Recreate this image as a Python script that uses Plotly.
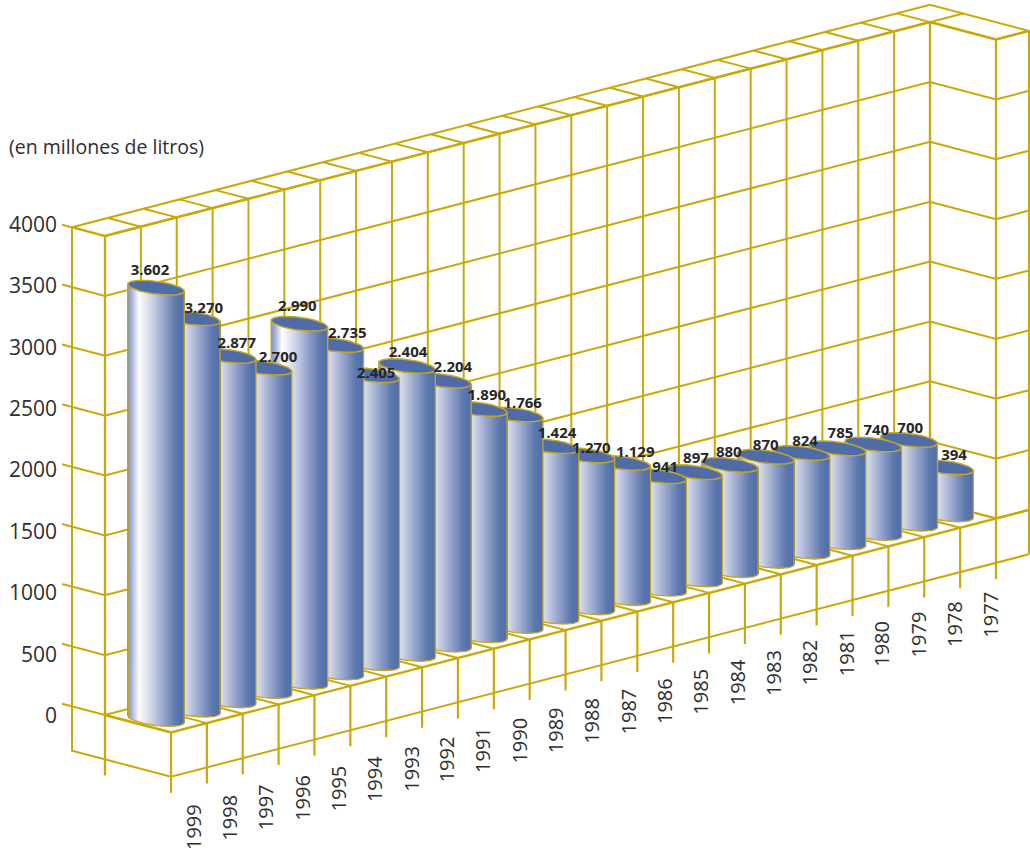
import numpy as np
import plotly.graph_objects as go

# Annual volume, in millions of litres, newest year first
years = list(range(1999, 1976, -1))
volumes = [3602, 3270, 2877, 2700, 2990, 2735, 2405, 2404, 2204, 1890, 1766, 1424,
           1270, 1129, 941, 897, 880, 870, 824, 785, 740, 700, 394]
value_ticks = [0, 500, 1000, 1500, 2000, 2500, 3000, 3500, 4000]
unit_title = "(en millones de litros)"

# Small offsets that keep each value label readable next to its cap
label_dx = [-6, 12, 9, 14.5, -2, 12, 5, 1, 10, 8, 8, 6.5, 5, 13, 7, 2, -1, 0, 3.5, 3, 3, 1, 9]
label_dy = [-16, -9, -12, -10, -17, -11, -1, -13, -12, -13, -10.5, -12, -6, -10, -8, -13,
            -12, -11, -11, -14, -13, -11, -11]

W, H = 1030, 851
GOLD = "#c9a90a"
EDGE = "#c4a820"
CAP = "#4f6ca8"
TEXT = "#2e2e2e"
FONT = "Open Sans"

ORIGIN = (105.0, 715.0)      # back wall meets floor at the first category
STEP = (35.87, -9.3)         # one category along the floor
DEPTH = (33.0, 8.7)          # one unit towards the viewer
PX_PER_UNIT = 0.11975        # vertical scale of the value axis
END = 23.92                  # far end of the box along the category direction
BELOW = -370                 # lower rim of the frame under the floor
TICK_END = -505              # lower end of the category ticks


def project(k, depth, value):
    """Oblique projection from (category, depth, value) to plot coordinates."""
    return (ORIGIN[0] + STEP[0] * k + DEPTH[0] * depth,
            ORIGIN[1] + STEP[1] * k + DEPTH[1] * depth - PX_PER_UNIT * value)


def polyline(points, width=2.0):
    xy = [project(*p) for p in points]
    return go.Scatter(x=[q[0] for q in xy], y=[q[1] for q in xy], mode="lines",
                      line=dict(color=GOLD, width=width), hoverinfo="skip",
                      showlegend=False)


fig = go.Figure()

# Box: value levels wrapping the walls
for v in value_ticks:
    fig.add_trace(polyline([(0, -1.3, v), (0, 0, v), (23, 0, v), (23, 2, v), (END, 2, v)]))

# Box: uprights on the back wall and the corners
for k in range(24):
    fig.add_trace(polyline([(k, 0, 4000), (k, 0, 0)]))
    fig.add_trace(polyline([(k, -1, 4000), (k, 0, 4000)]))
    fig.add_trace(polyline([(k, 0, 0), (k, 2, 0)]))
    fig.add_trace(polyline([(k, 2, 0), (k, 2, TICK_END)], 2.2))
fig.add_trace(polyline([(0, -1, 4000), (0, -1, BELOW), (0, 2, BELOW), (END, 2, BELOW)]))
fig.add_trace(polyline([(0, 0, 4000), (0, 0, TICK_END)], 2.3))
fig.add_trace(polyline([(0, -1, 4000), (END, -1, 4000), (END, 2, 4000), (END, 2, BELOW)]))
fig.add_trace(polyline([(END, 0, 4000), (23, 0, 4000)]))
fig.add_trace(polyline([(23, 0, 4000), (23, 0, 0)], 2.4))
fig.add_trace(polyline([(23, 2, 4000), (23, 2, 0)], 2.2))
fig.add_trace(polyline([(0, 0, 4000), (23, 0, 4000), (23, 2, 4000), (END, 2, 4000)], 2.4))
fig.add_trace(polyline([(0, 0, 0), (0, 2, 0), (END, 2, 0)], 2.4))

# Cylinder footprint: a circle on the floor seen through the projection
SEMI_A, SEMI_B, SLOPE = 14.5, 24.3, 0.26
REACH = float(np.hypot(SEMI_A, SEMI_B))
PHI = float(np.arctan2(SEMI_B, SEMI_A))


def rim(theta):
    return (SEMI_A * np.cos(theta) + SEMI_B * np.sin(theta),
            SLOPE * (SEMI_B * np.sin(theta) - SEMI_A * np.cos(theta)))


def shade(t):
    stops = np.array([0.0, 0.06, 0.2, 0.24, 0.4, 0.62, 0.86, 1.0])
    reds = np.array([128, 160, 255, 244, 212, 156, 92, 82])
    greens = np.array([146, 174, 255, 246, 217, 168, 120, 110])
    blues = np.array([198, 214, 255, 250, 234, 206, 174, 170])
    return "rgb(%d,%d,%d)" % (np.interp(t, stops, reds), np.interp(t, stops, greens),
                              np.interp(t, stops, blues))


def add_cylinder(k, value, axis):
    cx, base_y = project(k + 0.5, 1, 0)
    top_y = project(k + 0.5, 1, value)[1]
    left = int(np.floor(cx - REACH))
    right = int(np.ceil(cx + REACH))
    centres = np.arange(left, right) + 0.5
    turn = np.arccos(np.clip((centres - cx) / REACH, -1, 1))
    # At each column the rim has a far and a near offset: the wall runs from
    # the far rim of the cap (hidden under it) to the near rim of the base
    offsets_a, offsets_b = rim(PHI + turn)[1], rim(PHI - turn)[1]
    far = np.minimum(offsets_a, offsets_b)
    near = np.maximum(offsets_a, offsets_b)
    starts = top_y + far
    heights = base_y + near - starts
    fig.add_trace(go.Bar(x=centres, y=heights, base=starts, width=1.0,
                         marker=dict(color=[shade((c - (cx - REACH)) / (2 * REACH)) for c in centres],
                                     line=dict(width=0)),
                         hoverinfo="skip", showlegend=False, xaxis=f"x{axis}", yaxis=f"y{axis}"))
    # Silhouette: down one side, round the near edge, up the other
    edge = np.linspace(-REACH, REACH, 90)
    t2 = np.arccos(np.clip(edge / REACH, -1, 1))
    near_edge = np.maximum(rim(PHI + t2)[1], rim(PHI - t2)[1])
    sx = np.concatenate(([cx - REACH], cx + edge, [cx + REACH]))
    sy = np.concatenate(([top_y + rim(PHI + np.pi)[1]], base_y + near_edge, [top_y + rim(PHI)[1]]))
    fig.add_trace(go.Scatter(x=sx, y=sy, mode="lines", line=dict(color=EDGE, width=1.3),
                             hoverinfo="skip", showlegend=False, xaxis=f"x{axis}", yaxis=f"y{axis}"))
    # Cap
    rx, ry = rim(np.linspace(0, 2 * np.pi, 181))
    fig.add_trace(go.Scatter(x=cx + rx, y=top_y + ry, mode="lines", fill="toself", fillcolor=CAP,
                             line=dict(color=EDGE, width=1.5), hoverinfo="skip", showlegend=False,
                             xaxis=f"x{axis}", yaxis=f"y{axis}"))


axis_layout = {}
count = len(years)
# Painted from the far end forward so nearer cylinders cover their neighbours
for order, k in enumerate(range(count - 1, -1, -1)):
    axis = order + 2
    add_cylinder(k, volumes[k], axis)
    axis_layout[f"xaxis{axis}"] = dict(range=[0, W], visible=False, overlaying="x", fixedrange=True)
    axis_layout[f"yaxis{axis}"] = dict(range=[H, 0], visible=False, overlaying="y", fixedrange=True)

# Value labels above the caps
last = count + 1
label_x = [project(k + 0.5, 1, v)[0] + dx for k, (v, dx) in enumerate(zip(volumes, label_dx))]
label_y = [project(k + 0.5, 1, v)[1] + dy for k, (v, dy) in enumerate(zip(volumes, label_dy))]
label_text = [f"{v:,}".replace(",", ".") for v in volumes]
fig.add_trace(go.Scatter(x=label_x, y=label_y, text=label_text, mode="text",
                         textposition="middle center",
                         textfont=dict(family=FONT, size=15, color="#262626", weight=700),
                         hoverinfo="skip", showlegend=False, xaxis=f"x{last}", yaxis=f"y{last}"))

annotations = []
# Value axis labels sit on their own, slightly wider spacing
for v in value_ticks:
    annotations.append(dict(x=59, y=715 - 0.1228 * v, xref="x", yref="y", text=str(v),
                            showarrow=False, xanchor="right", yanchor="middle",
                            font=dict(family=FONT, size=21, color=TEXT)))
# Category labels, turned to read upwards
for k, year in enumerate(years):
    annotations.append(dict(x=193 + 36.27 * k, y=802 - 9.65 * k, xref="x", yref="y", text=str(year),
                            showarrow=False, textangle=-90, xanchor="center", yanchor="top",
                            font=dict(family=FONT, size=20, color=TEXT)))
annotations.append(dict(x=7, y=146, xref="x", yref="y", text=unit_title, showarrow=False,
                        xanchor="left", yanchor="middle",
                        font=dict(family=FONT, size=19.5, color=TEXT)))

fig.update_layout(
    width=W, height=H, margin=dict(l=0, r=0, t=0, b=0, pad=0),
    paper_bgcolor="white", plot_bgcolor="white", showlegend=False,
    xaxis=dict(range=[0, W], visible=False, fixedrange=True),
    yaxis=dict(range=[H, 0], visible=False, fixedrange=True),
    barmode="overlay", annotations=annotations, **axis_layout,
)

fig.write_html("out.html", config=dict(displayModeBar=False))
